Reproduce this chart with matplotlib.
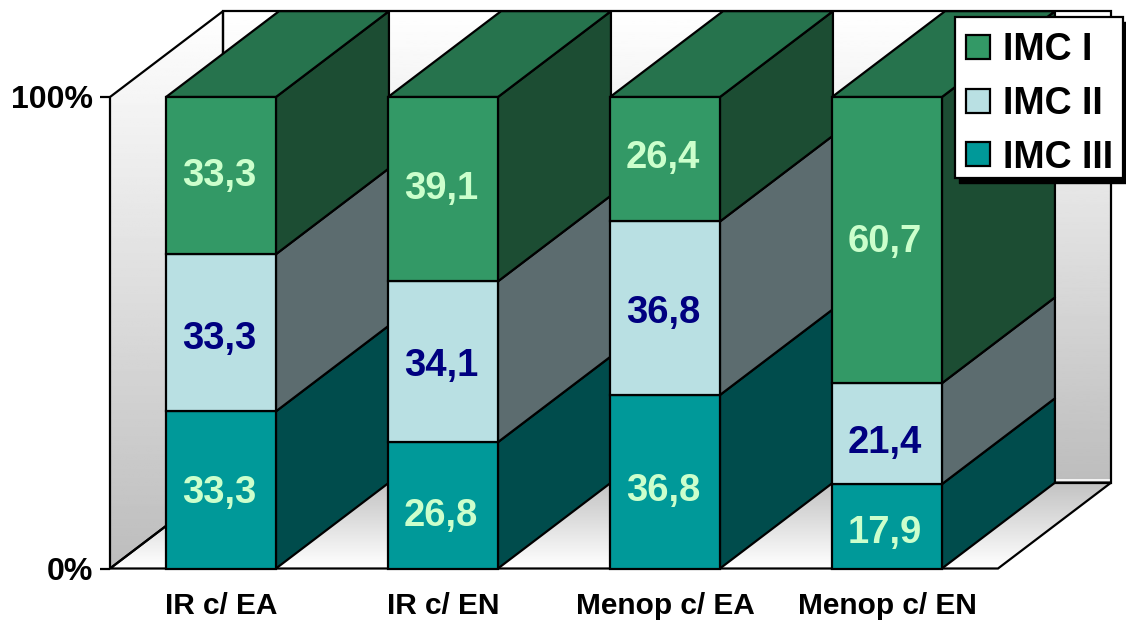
import numpy as np
import matplotlib.pyplot as plt
from matplotlib.patches import Polygon, Patch, Rectangle

# --- Data:

categories = ['IR c/ EA', 'IR c/ EN', 'Menop c/ EA', 'Menop c/ EN']
imc_3 = [33.3, 26.8, 36.8, 17.9]
imc_2 = [33.3, 34.1, 36.8, 21.4]
imc_1 = [33.3, 39.1, 26.4, 60.7]
series_names = ['IMC I', 'IMC II', 'IMC III']

# --- Style:

plt.rcParams['font.family'] = ['Liberation Sans', 'DejaVu Sans']
plt.rcParams['font.weight'] = 'bold'

front_colors = ['#009999', '#b9e0e3', '#339966']
side_colors = ['#004c4c', '#5c6c6f', '#1c4d33']
top_color = '#26734d'
label_colors = ['#ccffcc', '#000080', '#ccffcc']
# small label shifts in pixels, one row per series (bottom to top)
label_nudge = [[1, -7, -5, -3], [-2, 0, -1, -5], [4, 4, 5, 2]]

bar_width = 0.495
depth_x = 0.509
depth_y = 18.2
line_w = 1.6
edge = {'edgecolor': 'black', 'linewidth': line_w, 'clip_on': False}

fig = plt.figure(figsize=(11.26, 6.21), dpi=100)
ax = fig.add_axes([110 / 1126, (621 - 568.5) / 621, 888 / 1126, 471.5 / 621])
ax.patch.set_alpha(0)


def gradient(corners, start, end, zorder):
    # vertical grey fade clipped to a polygon
    xs = [c[0] for c in corners]
    ys = [c[1] for c in corners]
    shade = np.linspace(start, end, 256).reshape(-1, 1)
    im = ax.imshow(shade, cmap='gray', vmin=0, vmax=1, aspect='auto', origin='upper',
                   extent=[min(xs), max(xs), min(ys), max(ys)], zorder=zorder)
    poly = Polygon(corners, closed=True, facecolor='none', zorder=zorder + 0.1, **edge)
    ax.add_patch(poly)
    im.set_clip_box(fig.bbox)
    im.set_clip_path(poly)


x_left, x_right = -0.5, len(categories) - 0.5

# walls and floor
gradient([(x_left + depth_x, depth_y), (x_right + depth_x, depth_y),
          (x_right + depth_x, 100 + depth_y), (x_left + depth_x, 100 + depth_y)], 1.0, 0.74, 1)
gradient([(x_left, 0), (x_left + depth_x, depth_y),
          (x_left + depth_x, 100 + depth_y), (x_left, 100)], 1.0, 0.74, 1)
gradient([(x_left, 0), (x_right, 0),
          (x_right + depth_x, depth_y), (x_left + depth_x, depth_y)], 0.76, 1.0, 1)
ax.plot([x_left + depth_x, x_right + depth_x - 0.01], [depth_y + 0.6, depth_y + 0.6],
        color='white', linewidth=1.2, zorder=1.2, clip_on=False)

# stacked boxes
stack = np.array([imc_3, imc_2, imc_1], dtype=float)
shares = stack / stack.sum(axis=0) * 100

for i in range(len(categories)):
    x0 = i - bar_width / 2
    x1 = i + bar_width / 2
    base = 0
    for s in range(3):
        top = base + shares[s, i]
        ax.add_patch(Polygon([(x1, base), (x1 + depth_x, base + depth_y),
                              (x1 + depth_x, top + depth_y), (x1, top)],
                             facecolor=side_colors[s], zorder=3, **edge))
        ax.add_patch(Polygon([(x0, base), (x1, base), (x1, top), (x0, top)],
                             facecolor=front_colors[s], zorder=4, **edge))
        ax.annotate(f'{stack[s, i]:.1f}'.replace('.', ','), (i, (base + top) / 2),
                    xytext=(-1.5, label_nudge[s][i] * 0.72), textcoords='offset points',
                    ha='center', va='center_baseline', fontsize=27.5,
                    color=label_colors[s], zorder=6)
        base = top
    ax.add_patch(Polygon([(x0, 100), (x1, 100), (x1 + depth_x, 100 + depth_y),
                          (x0 + depth_x, 100 + depth_y)],
                         facecolor=top_color, zorder=3, **edge))

ax.set_xlim(x_left, x_right)
ax.set_ylim(0, 100)

for spine in ax.spines.values():
    spine.set_visible(False)

ax.set_yticks([0, 100], ['0%', '100%'], fontsize=23)
ax.tick_params(axis='y', length=7.5, width=line_w, pad=5)
ax.set_xticks(range(len(categories)), categories, fontsize=21.5)
ax.tick_params(axis='x', length=0, pad=17)

# legend box with hard shadow, text sits a bit low inside it
box = (955 / 1126, 1 - 178 / 621)
box_w, box_h = 168 / 1126, 161 / 621
ax.add_patch(Rectangle((box[0] + 4 / 1126, box[1] - 5 / 621), box_w, box_h, facecolor='black',
                       edgecolor='black', transform=fig.transFigure, clip_on=False, zorder=8))
ax.add_patch(Rectangle(box, box_w, box_h, facecolor='white', edgecolor='black', linewidth=line_w,
                       transform=fig.transFigure, clip_on=False, zorder=8.5))

handles = [Patch(facecolor=front_colors[2], edgecolor='black', linewidth=line_w),
           Patch(facecolor=front_colors[1], edgecolor='black', linewidth=line_w),
           Patch(facecolor=front_colors[0], edgecolor='black', linewidth=line_w)]
leg = ax.legend(handles, series_names, loc='upper left', fontsize=27, frameon=False,
                bbox_to_anchor=(955 / 1126, 1 - 21 / 621), bbox_transform=fig.transFigure,
                borderaxespad=0, borderpad=0.3,
                labelspacing=0.47, handlelength=0.62, handleheight=0.62, handletextpad=0.36)
leg.set_zorder(10)

fig.savefig('out.png', dpi=100)
